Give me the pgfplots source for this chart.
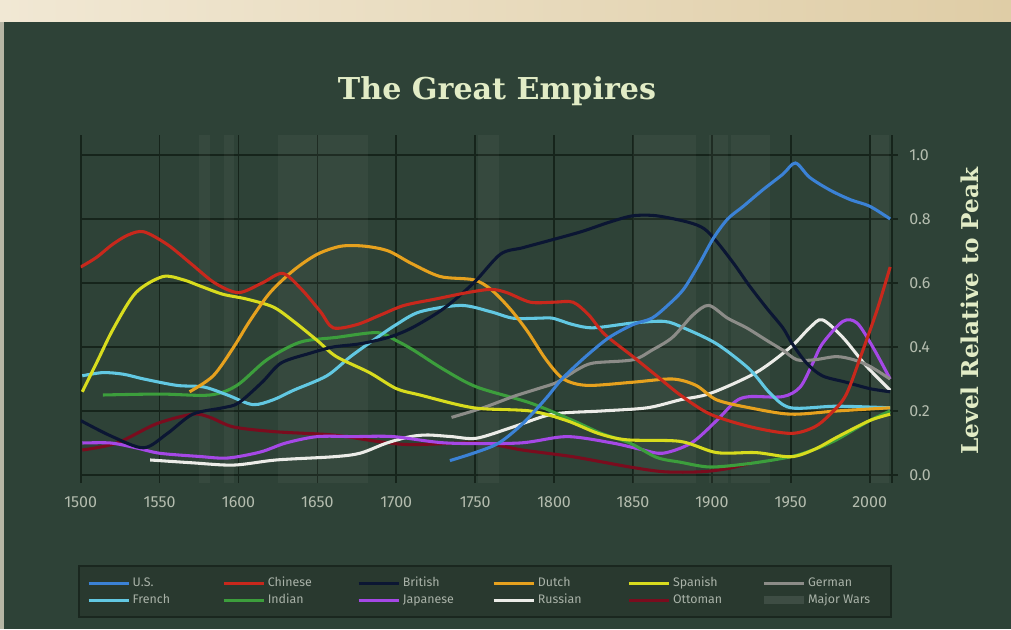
\documentclass[border=0pt]{standalone}
\usepackage{pgfplots}
\pgfplotsset{compat=1.18}
\usepackage{fontspec}
\setmainfont{Fira Sans}
\newfontfamily\titlefont{DejaVu Serif}
\definecolor{bg}{HTML}{2E4237}
\definecolor{beigeL}{HTML}{F1E8D4}
\definecolor{beigeR}{HTML}{DFCDA6}
\definecolor{gridcol}{HTML}{16241B}
\definecolor{tickcol}{HTML}{B4BCAE}
\definecolor{titlecol}{HTML}{E2ECC6}
\definecolor{legfill}{HTML}{29392F}
\definecolor{legdraw}{HTML}{1A271F}
\definecolor{legtext}{HTML}{A9B2A8}
\definecolor{cUS}{HTML}{3B82D6}
\definecolor{cCN}{HTML}{C8281C}
\definecolor{cGB}{HTML}{0B1633}
\definecolor{cNL}{HTML}{E6A11E}
\definecolor{cES}{HTML}{D8DC1E}
\definecolor{cDE}{HTML}{8C8C88}
\definecolor{cFR}{HTML}{62C8E2}
\definecolor{cIN}{HTML}{3C9E3C}
\definecolor{cJP}{HTML}{A548E6}
\definecolor{cRU}{HTML}{ECECE8}
\definecolor{cOT}{HTML}{7A0C1E}

\pgfplotstableread{
x y
1734 0.045
1750 0.07
1765 0.10
1780 0.16
1795 0.24
1805 0.30
1820 0.37
1835 0.43
1850 0.47
1862 0.49
1872 0.53
1882 0.58
1892 0.66
1901 0.74
1910 0.80
1920 0.84
1932 0.89
1945 0.94
1953 0.975
1962 0.93
1975 0.89
1988 0.86
2000 0.84
2013 0.80
}\tUS
\pgfplotstableread{
x y
1500 0.65
1510 0.68
1520 0.72
1530 0.75
1540 0.76
1555 0.72
1570 0.66
1585 0.60
1600 0.57
1615 0.60
1628 0.63
1640 0.58
1652 0.51
1660 0.46
1675 0.47
1690 0.50
1705 0.53
1725 0.55
1745 0.57
1760 0.58
1770 0.57
1785 0.54
1800 0.54
1812 0.54
1822 0.50
1832 0.44
1850 0.37
1865 0.31
1880 0.25
1899 0.19
1925 0.15
1950 0.13
1965 0.15
1975 0.19
1985 0.25
1995 0.38
2005 0.52
2013 0.65
}\tCN
\pgfplotstableread{
x y
1500 0.17
1520 0.12
1540 0.085
1555 0.13
1571 0.19
1590 0.21
1600 0.225
1615 0.29
1627 0.35
1645 0.38
1660 0.40
1677 0.41
1695 0.43
1710 0.46
1730 0.52
1749 0.60
1766 0.69
1780 0.71
1795 0.73
1817 0.76
1835 0.79
1850 0.81
1865 0.81
1885 0.79
1895 0.77
1903 0.73
1914 0.66
1924 0.59
1935 0.52
1945 0.46
1951 0.41
1960 0.35
1970 0.31
1985 0.29
2000 0.27
2013 0.26
}\tGB
\pgfplotstableread{
x y
1569 0.26
1584 0.31
1597 0.40
1607 0.48
1620 0.57
1635 0.64
1650 0.69
1665 0.715
1680 0.715
1695 0.70
1710 0.66
1728 0.62
1749 0.61
1760 0.58
1772 0.52
1783 0.45
1795 0.36
1806 0.30
1821 0.28
1850 0.29
1875 0.30
1890 0.28
1903 0.235
1924 0.21
1950 0.19
1979 0.20
2013 0.21
}\tNL
\pgfplotstableread{
x y
1501 0.26
1510 0.35
1521 0.46
1535 0.57
1552 0.62
1565 0.61
1576 0.59
1590 0.565
1605 0.55
1622 0.525
1635 0.48
1650 0.42
1662 0.37
1683 0.32
1700 0.27
1715 0.25
1749 0.21
1785 0.20
1808 0.17
1828 0.13
1846 0.11
1880 0.105
1903 0.07
1928 0.07
1950 0.057
1965 0.08
1980 0.12
2000 0.17
2013 0.19
}\tES
\pgfplotstableread{
x y
1735 0.18
1755 0.21
1774 0.245
1790 0.27
1802 0.29
1815 0.33
1825 0.35
1850 0.36
1862 0.39
1875 0.43
1888 0.50
1898 0.53
1910 0.49
1922 0.46
1935 0.42
1945 0.39
1954 0.36
1965 0.36
1979 0.37
1990 0.36
2000 0.34
2013 0.30
}\tDE
\pgfplotstableread{
x y
1501 0.31
1514 0.32
1527 0.315
1540 0.30
1561 0.28
1578 0.275
1593 0.25
1609 0.22
1622 0.235
1635 0.265
1656 0.31
1671 0.37
1688 0.43
1700 0.47
1715 0.51
1741 0.53
1760 0.51
1774 0.49
1790 0.49
1799 0.49
1812 0.47
1825 0.46
1850 0.475
1870 0.48
1882 0.46
1903 0.41
1924 0.33
1937 0.255
1950 0.21
1979 0.215
2013 0.21
}\tFR
\pgfplotstableread{
x y
1514 0.25
1550 0.253
1582 0.25
1599 0.28
1618 0.36
1639 0.415
1662 0.43
1688 0.445
1700 0.42
1711 0.39
1730 0.33
1751 0.275
1785 0.225
1812 0.17
1830 0.13
1848 0.10
1865 0.055
1880 0.04
1899 0.025
1924 0.036
1950 0.057
1965 0.08
1979 0.11
2000 0.17
2013 0.20
}\tIN
\pgfplotstableread{
x y
1501 0.10
1519 0.10
1535 0.085
1550 0.068
1575 0.058
1593 0.053
1614 0.072
1630 0.10
1650 0.12
1673 0.12
1698 0.12
1732 0.10
1778 0.10
1808 0.12
1837 0.10
1855 0.08
1869 0.068
1887 0.10
1903 0.17
1915 0.23
1924 0.245
1945 0.245
1956 0.275
1964 0.35
1970 0.41
1983 0.48
1992 0.475
2002 0.40
2013 0.30
}\tJP
\pgfplotstableread{
x y
1544 0.047
1571 0.038
1597 0.031
1624 0.047
1660 0.057
1677 0.068
1694 0.10
1709 0.12
1720 0.125
1735 0.12
1751 0.115
1774 0.15
1799 0.19
1830 0.20
1859 0.21
1880 0.235
1899 0.255
1928 0.32
1950 0.40
1962 0.46
1970 0.485
1983 0.43
1998 0.34
2013 0.265
}\tRU
\pgfplotstableread{
x y
1501 0.078
1523 0.10
1548 0.16
1571 0.19
1582 0.18
1597 0.15
1624 0.135
1660 0.125
1688 0.105
1709 0.095
1753 0.10
1780 0.078
1812 0.057
1848 0.025
1870 0.01
1893 0.01
1910 0.02
1925 0.038
}\tOT

\begin{document}
\begin{tikzpicture}
\fill[bg] (0pt,0pt) rectangle (758.25pt,471.75pt);
\shade[left color=beigeL, right color=beigeR] (0pt,455.25pt) rectangle (758.25pt,471.75pt);
\fill[beigeL!70!bg] (0pt,0pt) rectangle (3pt,455.25pt);
\node[text=titlecol, font=\titlefont\bfseries\fontsize{22.6}{27}\selectfont] at (372.75pt,403.5pt) {The Great Empires};
\node[text=titlecol, rotate=90, font=\titlefont\bfseries\fontsize{17.4}{21}\selectfont] at (727.5pt,238.5pt) {Level Relative to Peak};
\begin{axis}[
  at={(60.525pt,109.5pt)}, anchor=south west,
  scale only axis, width=613pt, height=261pt,
  xmin=1500, xmax=2018, ymin=-0.025, ymax=1.0625,
  axis line style={draw=none},
  major tick length=0pt,
  xtick={1500,1550,1600,1650,1700,1750,1800,1850,1900,1950,2000},
  ytick={0,0.2,0.4,0.6,0.8,1.0},
  extra x ticks={2014}, extra x tick labels={},
  extra x tick style={grid=major},
  grid=major, grid style={color=gridcol, line width=1.3pt},
  yticklabel pos=right,
  ticklabel style={font=\fontsize{12}{14}\selectfont, text=tickcol},
  /pgf/number format/assume math mode=true,
  xticklabel style={/pgf/number format/1000 sep={}, yshift=-7pt},
  yticklabel style={/pgf/number format/.cd, fixed, fixed zerofill, precision=1, /tikz/.cd, xshift=5pt},
  legend columns=6,
  legend cell align=left,
  legend image code/.code={\draw[#1, line width=2.3pt] (0pt,0pt) -- (30pt,0pt);},
  legend style={at={(-0.0033,-0.2356)}, anchor=north west, fill=legfill, draw=legdraw, line width=1.5pt,
    font=\fontsize{9.3}{11}\selectfont, text=legtext, inner xsep=6pt, inner ysep=6.5pt,
    /tikz/every even column/.append style={column sep=5pt},
    /tikz/every odd column/.append style={column sep=0pt}},
  no markers,
]
% major wars bands
\addplot[draw=none, fill=white, fill opacity=0.04, forget plot] coordinates {(1575,-0.025) (1582,-0.025) (1582,1.0625) (1575,1.0625)} -- cycle;
\addplot[draw=none, fill=white, fill opacity=0.04, forget plot] coordinates {(1591,-0.025) (1597,-0.025) (1597,1.0625) (1591,1.0625)} -- cycle;
\addplot[draw=none, fill=white, fill opacity=0.04, forget plot] coordinates {(1625,-0.025) (1682,-0.025) (1682,1.0625) (1625,1.0625)} -- cycle;
\addplot[draw=none, fill=white, fill opacity=0.04, forget plot] coordinates {(1752,-0.025) (1765,-0.025) (1765,1.0625) (1752,1.0625)} -- cycle;
\addplot[draw=none, fill=white, fill opacity=0.04, forget plot] coordinates {(1850,-0.025) (1890,-0.025) (1890,1.0625) (1850,1.0625)} -- cycle;
\addplot[draw=none, fill=white, fill opacity=0.04, forget plot] coordinates {(1898,-0.025) (1910,-0.025) (1910,1.0625) (1898,1.0625)} -- cycle;
\addplot[draw=none, fill=white, fill opacity=0.04, forget plot] coordinates {(1912,-0.025) (1937,-0.025) (1937,1.0625) (1912,1.0625)} -- cycle;
\addplot[draw=none, fill=white, fill opacity=0.04, forget plot] coordinates {(2001,-0.025) (2012,-0.025) (2012,1.0625) (2001,1.0625)} -- cycle;
% series
\addplot[cOT, line width=2.3pt, smooth, forget plot] table {\tOT};
\addplot[cRU, line width=2.3pt, smooth, forget plot] table {\tRU};
\addplot[cJP, line width=2.3pt, smooth, forget plot] table {\tJP};
\addplot[cIN, line width=2.3pt, smooth, forget plot] table {\tIN};
\addplot[cFR, line width=2.3pt, smooth, forget plot] table {\tFR};
\addplot[cDE, line width=2.3pt, smooth, forget plot] table {\tDE};
\addplot[cES, line width=2.3pt, smooth, forget plot] table {\tES};
\addplot[cNL, line width=2.3pt, smooth, forget plot] table {\tNL};
\addplot[cGB, line width=2.3pt, smooth, forget plot] table {\tGB};
\addplot[cCN, line width=2.3pt, smooth, forget plot] table {\tCN};
\addplot[cUS, line width=2.3pt, smooth, forget plot] table {\tUS};
% legend
\addlegendimage{cUS}\addlegendentry{\makebox[60pt][l]{U.S.}}
\addlegendimage{cCN}\addlegendentry{\makebox[60pt][l]{Chinese}}
\addlegendimage{cGB}\addlegendentry{\makebox[60pt][l]{British}}
\addlegendimage{cNL}\addlegendentry{\makebox[60pt][l]{Dutch}}
\addlegendimage{cES}\addlegendentry{\makebox[60pt][l]{Spanish}}
\addlegendimage{cDE}\addlegendentry{\makebox[54pt][l]{German}}
\addlegendimage{cFR}\addlegendentry{\makebox[60pt][l]{French}}
\addlegendimage{cIN}\addlegendentry{\makebox[60pt][l]{Indian}}
\addlegendimage{cJP}\addlegendentry{\makebox[60pt][l]{Japanese}}
\addlegendimage{cRU}\addlegendentry{\makebox[60pt][l]{Russian}}
\addlegendimage{cOT}\addlegendentry{\makebox[60pt][l]{Ottoman}}
\addlegendimage{legend image code/.code={\path[draw=none, fill=white, fill opacity=0.1] (0pt,-3pt) rectangle (30pt,3pt);}}\addlegendentry{\makebox[54pt][l]{Major Wars}}
\end{axis}
\end{tikzpicture}
\end{document}
